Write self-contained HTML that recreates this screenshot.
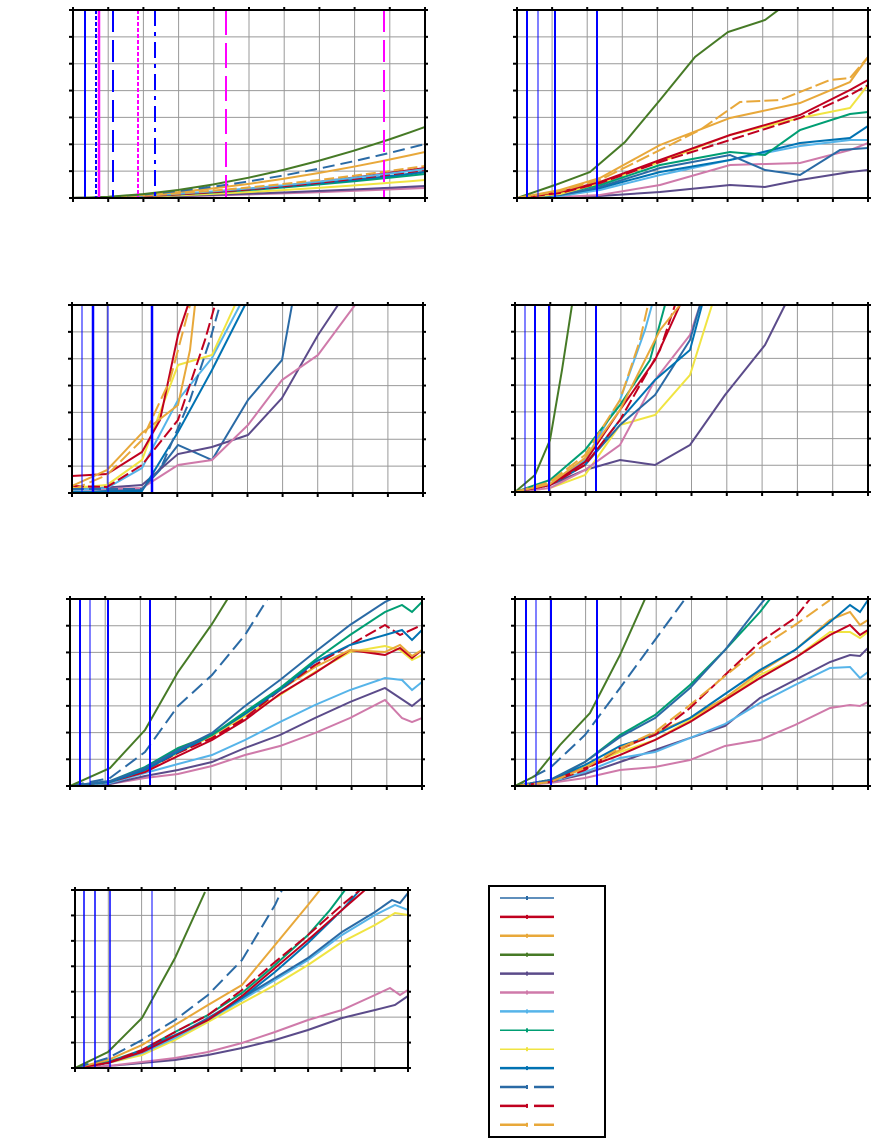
<!DOCTYPE html>
<html><head><meta charset="utf-8"><style>
html,body{margin:0;padding:0;background:#fff;}
svg{display:block}
</style></head><body>
<svg id="s" width="879" height="1146" xmlns="http://www.w3.org/2000/svg"></svg>
<script>
const S=document.getElementById('s');let h='';
const C={sb:'#2a6aa5',r:'#c0001f',o:'#e8a83a',g:'#467a26',p:'#5b4b8a',pk:'#cf7aaa',lb:'#56b4e9',t:'#009e73',y:'#f0e442',b:'#0072b2'};
function panel(x0,y0,x1,y1,nc,nr){
 const w=(x1-x0)/nc,hh=(y1-y0)/nr;
 for(let i=1;i<nc;i++)h+=`<line x1="${x0+i*w}" y1="${y0}" x2="${x0+i*w}" y2="${y1}" stroke="#999" stroke-width="1"/>`;
 for(let j=1;j<nr;j++)h+=`<line x1="${x0}" y1="${y0+j*hh}" x2="${x1}" y2="${y0+j*hh}" stroke="#999" stroke-width="1"/>`;
 return {x0,y0,x1,y1,w,hh,nc,nr};
}
function frame(P){
 h+=`<rect x="${P.x0}" y="${P.y0}" width="${P.x1-P.x0}" height="${P.y1-P.y0}" fill="none" stroke="#000" stroke-width="2"/>`;
 for(let i=0;i<=P.nc;i++){h+=`<line x1="${P.x0+i*P.w}" y1="${P.y1}" x2="${P.x0+i*P.w}" y2="${P.y1+4}" stroke="#000" stroke-width="2"/><line x1="${P.x0+i*P.w}" y1="${P.y0-3}" x2="${P.x0+i*P.w}" y2="${P.y0}" stroke="#000" stroke-width="2"/>`;}
 for(let j=0;j<=P.nr;j++){h+=`<line x1="${P.x0-4}" y1="${P.y0+j*P.hh}" x2="${P.x0}" y2="${P.y0+j*P.hh}" stroke="#000" stroke-width="2"/><line x1="${P.x1}" y1="${P.y0+j*P.hh}" x2="${P.x1+3}" y2="${P.y0+j*P.hh}" stroke="#000" stroke-width="2"/>`;}
}
function pl(P,c,pts,dash){
 h+=`<svg x="${P.x0}" y="${P.y0}" width="${P.x1-P.x0}" height="${P.y1-P.y0}" overflow="hidden"><polyline points="${pts.map(p=>(p[0]-P.x0)+','+(p[1]-P.y0)).join(' ')}" fill="none" stroke="${c}" stroke-width="2" ${dash?'stroke-dasharray="'+dash+'"':''}/></svg>`;
}
function vl(P,x,c,wd,dash){h+=`<line x1="${x}" y1="${P.y0}" x2="${x}" y2="${P.y1}" stroke="${c}" stroke-width="${wd}" ${dash?'stroke-dasharray="'+dash+'"':''}/>`;}
function xs(P){const a=[];for(let i=0;i<=P.nc;i++)a.push(P.x0+i*P.w);return a;}

// Panel 1
let P=panel(73,10,425,198,10,7);
{const X=[73,108,143,178,213,248,283,318,353,388,410,425];
 const f=(end,pow)=>X.map((x,i)=>[x,198-(end)*Math.pow((x-73)/352,pow)]);
 pl(P,C.pk,f(10,1.5));pl(P,C.p,f(12,1.5));pl(P,C.y,f(18,1.6));pl(P,C.t,f(24,1.6));pl(P,C.b,f(26,1.6));pl(P,C.r,f(28,1.7),'10,4');pl(P,C.r,f(30,1.7));pl(P,C.lb,f(29,1.6));pl(P,C.o,f(32,1.6),'10,4');pl(P,C.o,f(46,1.7));pl(P,C.sb,f(54,1.7),'12,6');pl(P,C.g,f(71,1.8));}
vl(P,85,'#00f',2);vl(P,96,'#00f',2,'4,2');vl(P,99,'#f0f',2.5);vl(P,113,'#00f',2,'22,8');vl(P,138,'#f0f',2,'4,2');vl(P,155,'#00f',2,'16,6,4,6');vl(P,226,'#f0f',2,'25,8');vl(P,384,'#f0f',2,'22,8');
frame(P);

// Panel 2
P=panel(517,10,868,198,10,7);
pl(P,C.g,[[517,198],[555,185],[590,172],[625,142],[660,100],[695,57],[728,32],[765,20],[785,5]]);
pl(P,C.p,[[517,198],[560,197],[600,196],[660,192],[730,185],[765,187],[800,180],[850,172],[868,170]]);
pl(P,C.pk,[[517,198],[560,197],[600,195],[660,185],[730,165],[800,163],[850,150],[868,143]]);
pl(P,C.lb,[[517,198],[560,196],[600,190],[660,175],[730,160],[800,146],[850,140],[868,140]]);
pl(P,C.b,[[517,198],[560,195],[600,188],[660,172],[730,160],[800,143],[850,138],[868,126]]);
pl(P,C.sb,[[517,198],[560,195],[600,187],[660,168],[730,155],[765,170],[800,175],[840,150],[868,148]]);
pl(P,C.t,[[517,198],[560,193],[600,185],[660,165],[730,152],[765,155],[800,130],[850,114],[868,112]]);
pl(P,C.y,[[517,198],[560,194],[600,183],[660,162],[730,135],[800,118],[850,108],[868,85]]);
pl(P,C.r,[[517,198],[560,192],[600,182],[660,160],[730,135],[800,115],[850,90],[868,80]]);
pl(P,C.r,[[517,198],[560,193],[600,183],[660,162],[730,140],[800,118],[850,95],[868,85]],'12,4');
pl(P,C.o,[[517,198],[560,190],[600,178],[660,145],[730,118],[800,103],[850,82],[868,57]]);
pl(P,C.o,[[517,198],[560,191],[600,180],[660,150],[700,130],[740,102],[780,100],[830,80],[850,78],[868,57]],'14,4');
[527,538,555,597].forEach((x,i)=>vl(P,x,'#00f',i==1?1:2));
frame(P);

// Panel 3
P=panel(72,305,423,493,10,7);
pl(P,C.sb,[[72,488],[107,490],[142,490],[155,475],[178,445],[212,460],[248,400],[282,360],[292,305]]);
pl(P,C.p,[[72,490],[142,485],[178,454],[212,447],[248,435],[282,398],[318,335],[338,305]]);
pl(P,C.pk,[[72,490],[142,488],[178,465],[212,460],[248,425],[282,380],[318,355],[355,305]]);
pl(P,C.b,[[72,492],[142,491],[178,432],[212,370],[245,305]]);
pl(P,C.lb,[[72,490],[107,488],[142,468],[178,400],[212,358],[240,305]]);
pl(P,C.y,[[72,488],[107,485],[142,460],[178,365],[212,355],[235,305]]);
pl(P,C.r,[[72,476],[107,474],[142,452],[160,420],[178,335],[188,305]]);
pl(P,C.r,[[72,486],[107,487],[142,465],[178,420],[205,340],[215,305]],'12,4');
pl(P,C.o,[[72,486],[107,470],[142,433],[178,405],[190,350],[195,305]]);
pl(P,C.o,[[72,490],[107,475],[142,440],[170,380],[190,305]],'14,5');
pl(P,C.sb,[[72,489],[107,489],[142,489],[160,470],[190,400],[210,340],[220,305]],'12,5');
[82,93,108,152].forEach((x,i)=>vl(P,x,'#00f',i==0||i==2?1:2.5));
frame(P);

// Panel 4
P=panel(515,305,868,492,10,7);
pl(P,C.g,[[515,492],[535,475],[550,440],[562,370],[572,305]]);
pl(P,C.p,[[515,492],[550,485],[585,470],[620,460],[655,465],[690,445],[725,395],[765,345],[785,305]]);
pl(P,C.y,[[515,492],[550,488],[585,475],[620,425],[655,415],[690,375],[712,305]]);
pl(P,C.pk,[[515,492],[550,488],[585,470],[620,445],[655,380],[690,335],[700,305]]);
pl(P,C.sb,[[515,492],[550,485],[585,465],[620,425],[655,395],[690,340],[700,305]]);
pl(P,C.b,[[515,492],[550,485],[585,465],[620,420],[655,380],[690,350],[702,305]]);
pl(P,C.lb,[[515,492],[550,484],[585,460],[620,400],[645,330],[652,305]]);
pl(P,C.t,[[515,492],[550,480],[585,450],[620,405],[650,360],[665,305]]);
pl(P,C.r,[[515,492],[550,485],[585,462],[620,410],[655,360],[680,305]]);
pl(P,C.r,[[515,492],[550,485],[585,465],[620,420],[660,350],[675,305]],'12,4');
pl(P,C.o,[[515,492],[550,482],[585,455],[620,400],[640,340],[648,305]],'14,5');
pl(P,C.o,[[515,492],[550,484],[585,458],[620,410],[660,330],[680,305]]);
[525,535,549,596].forEach((x,i)=>vl(P,x,'#00f',i==0?1:2));
frame(P);

// Panel 5
P=panel(70,599,422,786,10,7);
{const q=(end)=>[[70,786],[90,784],[110,782],[145,772],[178,762],[212,748],[245,730],[280,712],[315,690],[350,670],[385,650],[400,645],[412,655],[422,645]].map(([x,y])=>[x,786-(786-y)*end]);
 const gen=(pts)=>pts;
 pl(P,C.pk,[[70,786],[110,784],[145,778],[178,774],[212,766],[245,755],[280,746],[315,733],[350,718],[385,700],[402,718],[412,722],[422,718]]);
 pl(P,C.p,[[70,786],[110,784],[145,776],[178,770],[212,762],[245,748],[280,735],[315,718],[350,702],[385,688],[412,706],[422,698]]);
 pl(P,C.lb,[[70,786],[110,783],[145,773],[178,764],[212,755],[245,740],[280,722],[315,705],[350,690],[385,678],[402,680],[412,690],[422,682]]);
 pl(P,C.y,[[70,786],[110,782],[145,770],[178,753],[212,736],[245,716],[280,695],[315,672],[350,652],[385,646],[400,650],[412,660],[422,655]]);
 pl(P,C.r,[[70,786],[110,782],[145,772],[178,756],[212,740],[245,720],[280,694],[315,673],[350,650],[385,655],[400,648],[412,658],[422,650]]);
 pl(P,C.o,[[70,786],[110,782],[145,770],[178,748],[212,735],[245,713],[280,690],[315,667],[350,650],[385,652],[400,645],[412,656],[422,650]]);
 pl(P,C.r,[[70,786],[110,782],[145,770],[178,753],[212,738],[245,718],[280,690],[315,665],[350,645],[385,625],[400,635],[422,625]],'12,4');
 pl(P,C.b,[[70,786],[110,782],[145,770],[178,752],[212,735],[245,714],[280,690],[315,662],[350,645],[385,635],[402,630],[412,640],[422,630]]);
 pl(P,C.t,[[70,786],[110,781],[145,767],[178,748],[212,735],[245,712],[280,688],[315,660],[350,635],[385,612],[402,605],[412,612],[422,602]]);
 pl(P,C.sb,[[70,786],[110,781],[145,768],[178,750],[212,733],[245,706],[280,680],[315,652],[350,625],[385,602],[400,595]]);
 pl(P,C.sb,[[70,786],[110,778],[145,752],[178,706],[212,675],[245,635],[270,595]],'14,6');
 pl(P,C.g,[[70,786],[110,768],[145,730],[178,672],[212,624],[230,595]]);}
[80,90,108,150].forEach((x,i)=>vl(P,x,'#00f',i==1?1:2));
frame(P);

// Panel 6
P=panel(515,599,868,786,10,7);
pl(P,C.pk,[[515,786],[550,783],[585,778],[620,770],[655,767],[690,760],[725,746],[760,740],[795,725],[830,708],[850,705],[860,706],[868,702]]);
pl(P,C.p,[[515,786],[550,782],[585,774],[620,762],[655,750],[690,738],[725,726],[760,698],[795,680],[830,662],[850,655],[860,656],[868,648]]);
pl(P,C.lb,[[515,786],[550,782],[585,772],[620,758],[655,752],[690,738],[725,724],[760,703],[795,685],[830,668],[850,667],[860,678],[868,672]]);
pl(P,C.y,[[515,786],[550,780],[585,766],[620,752],[655,740],[690,720],[725,700],[760,675],[795,658],[830,632],[850,632],[860,638],[868,632]]);
pl(P,C.o,[[515,786],[550,780],[585,768],[620,750],[655,733],[690,718],[725,698],[760,672],[795,650],[830,620],[850,612],[860,625],[868,620]]);
pl(P,C.r,[[515,786],[550,781],[585,768],[620,755],[655,740],[690,722],[725,700],[760,678],[795,658],[830,635],[850,625],[860,635],[868,630]]);
pl(P,C.b,[[515,786],[550,780],[585,765],[620,746],[655,735],[690,718],[725,694],[760,670],[795,650],[830,622],[850,605],[860,612],[868,600]]);
pl(P,C.t,[[515,786],[550,780],[585,762],[620,735],[655,715],[690,685],[725,650],[760,612],[770,599]]);
pl(P,C.sb,[[515,786],[550,780],[585,762],[620,737],[655,718],[690,688],[725,650],[760,605],[765,599]]);
pl(P,C.r,[[515,786],[550,782],[585,770],[620,748],[655,735],[690,708],[725,675],[760,642],[795,618],[810,599]],'12,4');
pl(P,C.o,[[515,786],[550,782],[585,768],[620,748],[655,732],[690,705],[725,676],[760,648],[795,625],[830,600]],'14,5');
pl(P,C.sb,[[515,786],[550,768],[585,735],[620,688],[655,640],[685,599]],'14,6');
pl(P,C.g,[[515,786],[535,776],[560,745],[590,713],[620,655],[645,599]]);
[526,536,551,597].forEach((x,i)=>vl(P,x,'#00f',i==1?1:2));
frame(P);

// Panel 7
P=panel(75,890,408,1068,10,7);
pl(P,C.p,[[75,1068],[108,1066],[142,1063],[175,1060],[208,1055],[242,1048],[275,1040],[308,1030],[342,1018],[375,1010],[395,1005],[408,996]]);
pl(P,C.pk,[[75,1068],[108,1066],[142,1062],[175,1058],[208,1052],[242,1043],[275,1032],[308,1020],[342,1010],[375,995],[390,988],[400,995],[408,990]]);
pl(P,C.y,[[75,1068],[108,1063],[142,1055],[175,1040],[208,1022],[242,1003],[275,985],[308,965],[342,942],[375,925],[395,913],[408,915]]);
pl(P,C.lb,[[75,1068],[108,1063],[142,1053],[175,1038],[208,1020],[242,1000],[275,980],[308,960],[342,935],[375,915],[395,905],[408,910]]);
pl(P,C.sb,[[75,1068],[108,1063],[142,1052],[175,1036],[208,1018],[242,998],[275,978],[308,958],[342,932],[375,912],[392,900],[400,903],[408,893]]);
pl(P,C.t,[[75,1068],[108,1062],[142,1050],[175,1032],[208,1015],[242,993],[275,965],[308,935],[330,910],[345,890]]);
pl(P,C.b,[[75,1068],[108,1063],[142,1050],[175,1035],[208,1020],[242,998],[275,972],[308,943],[342,910],[360,890]]);
pl(P,C.r,[[75,1068],[108,1063],[142,1052],[175,1036],[208,1020],[242,996],[275,968],[308,940],[342,910],[365,890]]);
pl(P,C.r,[[75,1068],[108,1063],[142,1050],[175,1032],[208,1015],[242,990],[275,962],[308,935],[342,905],[360,890]],'12,4');
pl(P,C.o,[[75,1068],[108,1060],[142,1045],[175,1025],[208,1005],[242,985],[275,945],[308,905],[320,890]]);
pl(P,C.sb,[[75,1068],[108,1058],[142,1040],[175,1020],[208,995],[242,960],[275,905],[282,890]],'14,6');
pl(P,C.g,[[75,1068],[108,1052],[142,1018],[175,958],[205,892]]);
[84,95,110,152].forEach((x,i)=>vl(P,x,'#00f',i==3?1:1.5));
frame(P);

// Legend
h+=`<rect x="489" y="886" width="116" height="251" fill="#fff" stroke="#000" stroke-width="2"/>`;
[[C.sb,0,1.5],[C.r,0,2.5],[C.o,0,2.5],[C.g,0,2.5],[C.p,0,2.5],[C.pk,0,2.5],[C.lb,0,2.5],[C.t,0,1.5],[C.y,0,1.5],[C.b,0,2.5],[C.sb,1,2.5],[C.r,1,2.5],[C.o,1,2.5]].forEach((s,i)=>{
 const y=898+i*18.9;
 if(s[1])h+=`<line x1="500" y1="${y}" x2="528" y2="${y}" stroke="${s[0]}" stroke-width="${s[2]}"/><line x1="534" y1="${y}" x2="554" y2="${y}" stroke="${s[0]}" stroke-width="${s[2]}"/>`;
 else h+=`<line x1="500" y1="${y}" x2="554" y2="${y}" stroke="${s[0]}" stroke-width="${s[2]}"/>`;
 h+=`<line x1="527" y1="${y-2}" x2="527" y2="${y+2}" stroke="${s[0]}" stroke-width="2"/>`;
});
S.innerHTML=h;
</script>
</body></html>
